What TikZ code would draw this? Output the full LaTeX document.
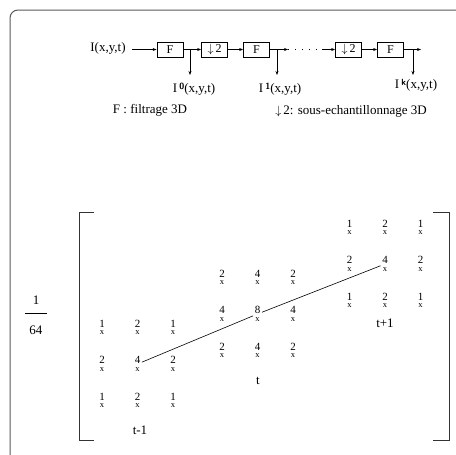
\documentclass[tikz,border=0pt]{standalone}
\usepackage{fontspec}
\setmainfont{Liberation Serif}
\usetikzlibrary{arrows.meta, positioning}

\tikzset{
  blk/.style={draw, line width=0.8pt, minimum width=26pt, minimum height=15pt, inner sep=0pt,
    font=\fontsize{12}{12}\selectfont},
  flow/.style={line width=0.6pt, -{Stealth[length=4pt, width=3pt]}},
  lbl/.style={font=\fontsize{13}{15}\selectfont, inner sep=1pt},
  coef/.style={inner sep=1.5pt},
  bkt/.style={line width=1pt, black!80},
}
\newcommand{\coefx}[1]{\shortstack{{\fontsize{11}{11}\selectfont #1}\\[0.5pt]{\fontsize{8.5}{8.5}\selectfont x}}}
\newcommand{\supI}[1]{I\,\raisebox{3pt}{\fontsize{9}{9}\selectfont\sffamily\bfseries #1}}

\begin{document}
\begin{tikzpicture}[x=1pt, y=-1pt]
\useasboundingbox (0,0) rectangle (456,455);
% frame
\draw[black!65, line width=1pt, rounded corners=8pt] (10,458) -- (10,10) -- (458,10);

% filter chain
\node[lbl] (in) at (108,48) {I(x,y,t)};
\node[blk] (f0) at (170,49.5) {F};
\node[blk] (d1) at (214.5,49.5) {$\downarrow$\,2};
\node[blk] (f1) at (256.5,49.5) {F};
\node[blk] (d2) at (348.5,49.5) {$\downarrow$\,2};
\node[blk] (f2) at (390.5,49.5) {F};
\coordinate (p0) at (190,49.5);
\coordinate (p1) at (277,49.5);
\coordinate (p2) at (413,49.5);
\coordinate (q0) at (132,49.5);
\coordinate (q1) at (288,49.5);
\coordinate (q2) at (322,49.5);
\coordinate (q3) at (421,49.5);
\coordinate (o0) at (190,75);
\coordinate (o1) at (277,75);
\coordinate (o2) at (413,75);
\draw[flow] (q0) -- (f0);
\draw[flow] (f0) -- (d1);
\draw[flow] (d1) -- (f1);
\draw[flow] (f1) -- (q1);
\draw[line width=0.6pt, dash pattern=on 1pt off 6pt] (q1) -- (q2);
\draw[flow] (q2) -- (d2);
\draw[flow] (d2) -- (f2);
\draw[flow] (f2) -- (q3);
\draw[flow] (p0) -- (o0);
\draw[flow] (p1) -- (o1);
\draw[flow] (p2) -- (o2);
\node[lbl] (r0) at (194,89) {\supI{0}(x,y,t)};
\node[lbl] (r1) at (280,89) {\supI{1}(x,y,t)};
\node[lbl] (r2) at (416,85) {\supI{k}(x,y,t)};
\node[lbl] (kf) at (150,110) {F : filtrage 3D};
\node[lbl] (kd) at (351,111) {$\downarrow$\,2: sous-echantillonnage 3D};

% normalisation
\node[lbl] (num) at (36,300) {1};
\node[lbl] (den) at (36,330) {64};
\draw[line width=0.6pt] (25,313) -- (47,313);

% brackets
\draw[bkt] (94,212) -- (79,212) -- (79,440) -- (94,440);
\draw[bkt] (433,212) -- (449,212) -- (449,440) -- (433,440);

% coefficient blocks
\foreach \blk/\cx/\cy/\vals in {a/137.5/364/{1,2,1,2,4,2,1,2,1},
                                b/257.5/314/{2,4,2,4,8,4,2,4,2},
                                c/385/264/{1,2,1,2,4,2,1,2,1}} {
  \foreach \v [count=\i from 0] in \vals {
    \pgfmathtruncatemacro\col{mod(\i,3)}
    \pgfmathtruncatemacro\row{\i/3}
    \node[coef] (\blk\i) at ({\cx+(\col-1)*35.5},{\cy+(\row-1)*36.5}) {\coefx{\v}};
  }
}
\draw[line width=0.6pt] (a4) -- (b4);
\draw[line width=0.6pt] (b4) -- (c4);
\node[lbl] (ta) at (140,430) {t-1};
\node[lbl] (tb) at (258,381) {t};
\node[lbl] (tc) at (385,323) {t+1};
\end{tikzpicture}
\end{document}
